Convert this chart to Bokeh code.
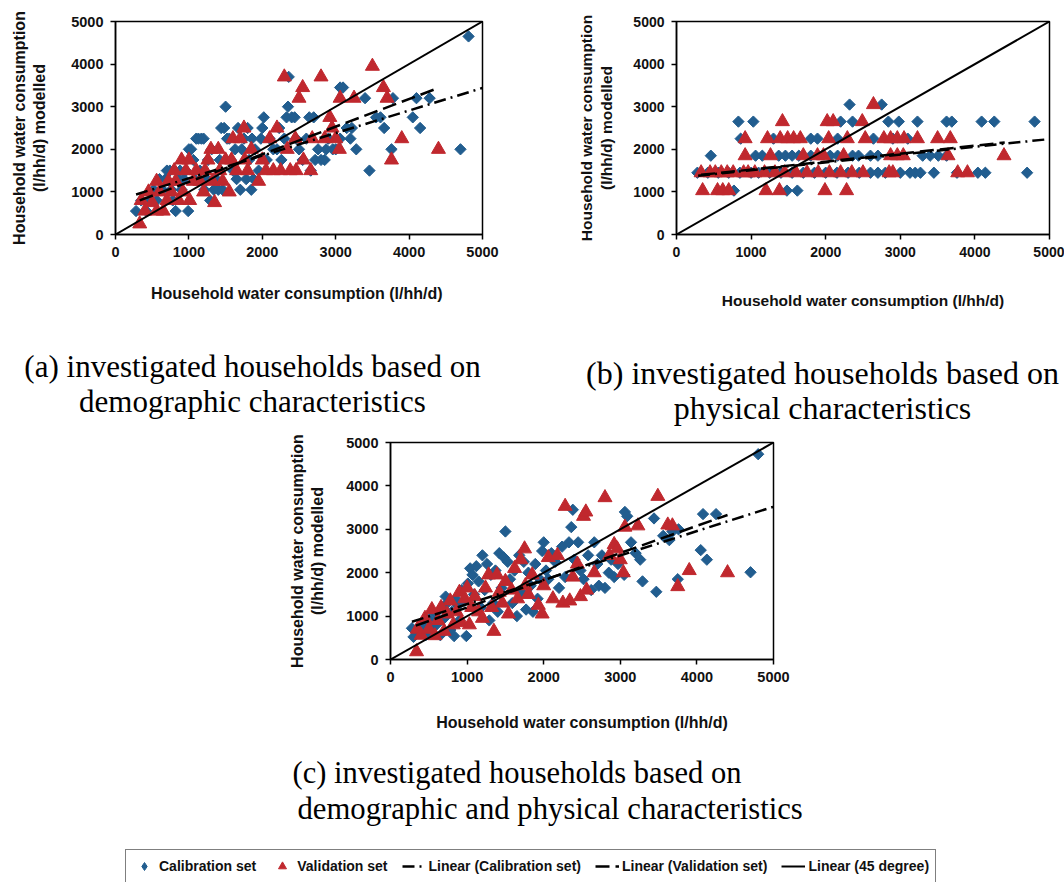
from bokeh.plotting import figure
from bokeh.models import Label, Legend, LegendItem, FixedTicker, Range1d
from bokeh.layouts import row, column
from bokeh.embed import file_html
from bokeh.resources import INLINE
import numpy as np

# ---------------- data ----------------
TICKS = [0, 1000, 2000, 3000, 4000, 5000]
X_LABEL_A = "Household water consumption  (l/hh/d)"
X_LABEL = "Household water consumption (l/hh/d)"
Y_LABEL = "Household water consumption\n(l/hh/d) modelled"
LEGEND_LABELS = ["Calibration set", "Validation set", "Linear (Calibration set)",
                 "Linear (Validation set)", "Linear (45 degree)"]
CAPTIONS = {
    "a": ["(a) investigated households based on", "demographic characteristics"],
    "b": ["(b) investigated households based on", "physical characteristics"],
    "c": ["(c) investigated households based on", " demographic and physical characteristics"],
}

# panel (a): demographic characteristics
A_CAL = [(280,550),(350,800),(420,550),(480,800),(520,1050),(560,800),(600,1300),(640,1050),
         (680,1300),(700,1500),(740,1500),(760,1050),(780,800),(820,550),(850,1300),(880,1500),
         (900,1050),(930,1300),(960,1500),(990,550),(1000,2000),(1030,2000),(1060,1750),(1080,1300),
         (1100,2250),(1130,2250),(1150,1500),(1170,2250),(1200,2250),(1210,1050),(1240,1300),(1260,1750),
         (1290,800),(1310,2000),(1340,1050),(1370,1300),(1400,1050),(1420,1750),(1440,2500),(1460,1050),
         (1480,2500),(1500,3000),(1520,2250),(1550,2250),(1570,1750),(1600,1500),(1630,2000),(1650,1300),
         (1670,2500),(1700,1050),(1720,2000),(1750,2250),(1780,1300),(1800,2500),(1820,1750),(1850,1050),
         (1860,2250),(1880,1300),(1900,2000),(1950,1500),(1980,2250),(2000,2500),(2020,2750),(2060,1750),
         (2100,2250),(2150,2000),(2200,2000),(2230,2500),(2260,1750),(2300,2250),(2330,2750),(2350,3000),
         (2360,3700),(2400,2750),(2440,2750),(2460,2250),(2500,2000),(2550,1750),(2600,2250),(2640,2750),
         (2660,1500),(2700,2750),(2720,1750),(2760,2000),(2800,1750),(2850,1750),(2870,2000),(2900,2250),
         (2960,2000),(3000,2000),(3060,3450),(3100,3450),(3060,2250),(3150,2500),(3200,2250),(3220,2500),
         (3280,2000),(3400,3200),(3460,1500),(3550,2750),(3610,2750),(3660,2500),(3760,2000),(3780,3200),
         (4050,2750),(4100,3200),(4150,2500),(4280,3200),(4700,2000),(4810,4650)]
A_VAL = [(330,250),(350,800),(400,550),(450,1000),(500,750),(560,1250),(560,550),(600,1000),
         (650,550),(700,800),(720,1250),(760,1000),(800,1500),(820,1250),(860,800),(900,1750),
         (920,1000),(960,1500),(1000,1750),(1010,800),(1060,1250),(1100,1500),(1150,1250),(1200,1000),
         (1220,1500),(1260,1750),(1300,2000),(1320,1250),(1350,750),(1400,2000),(1420,1500),(1460,1250),
         (1500,1750),(1550,1000),(1580,1750),(1600,2250),(1650,1500),(1700,2250),(1750,2500),(1760,1750),
         (1800,1500),(1850,2000),(1950,1250),(2000,1750),(2050,1500),(2100,2250),(2150,1500),(2200,2500),
         (2250,1500),(2300,3700),(2340,2000),(2380,1500),(2450,2250),(2460,1500),(2500,3200),(2550,3450),
         (2560,1750),(2660,1500),(2680,2250),(2800,3700),(2850,2250),(2920,2750),(2950,2500),(3000,2250),
         (3050,2000),(3060,3200),(3250,3200),(3500,3950),(3650,3450),(3700,3200),(3760,1750),(3900,2250),
         (4400,2000)]
A_CAL_LINE = [(280, 940), (5000, 3440)]
A_VAL_LINE = [(330, 800), (4400, 3440)]

# panel (b): physical characteristics
B_CAL = [(280,1450),(420,1450),(560,1450),(700,1450),(850,1450),(1000,1450),(1100,1450),(1250,1450),
         (1400,1450),(1550,1450),(1700,1450),(1850,1450),(2000,1450),(2150,1450),(2300,1450),(2450,1450),
         (2600,1450),(2700,1450),(2800,1450),(3000,1450),(3130,1450),(3200,1450),(3270,1450),(3450,1450),
         (3760,1450),(4040,1450),(4140,1450),(4700,1450),
         (460,1850),(1060,1850),(1150,1850),(1370,1850),(1460,1850),(1550,1850),(1640,1850),(1800,1850),
         (2060,1850),(2160,1850),(2360,1850),(2440,1850),(2600,1850),(2700,1850),(3300,1850),(3400,1850),
         (3510,1850),(3620,1850),
         (860,2250),(1300,2250),(1800,2250),(1890,2250),(2160,2250),(2640,2250),(2900,2250),(3100,2250),
         (830,2650),(1030,2650),(2200,2650),(2360,2650),(2840,2650),(2980,2650),(3230,2650),(3620,2650),
         (3690,2650),(4090,2650),(4260,2650),(4800,2650),
         (2320,3050),(2750,3050),
         (770,1030),(1480,1030),(1620,1030)]
B_VAL = [(350,1030),(550,1030),(620,1030),(700,1030),(1200,1030),(1380,1030),(1990,1030),(2280,1030),
         (330,1450),(450,1450),(520,1450),(600,1450),(680,1450),(760,1450),(900,1450),(960,1450),
         (1050,1450),(1180,1450),(1320,1450),(1450,1450),(1600,1450),(1750,1450),(1900,1450),(2050,1450),
         (2200,1450),(2350,1450),(2500,1450),(2850,1450),(2900,1450),(3770,1450),(3900,1450),
         (920,1850),(1260,1850),(1700,1850),(1890,1850),(1970,1850),(2240,1850),(2870,1850),(2960,1850),
         (3040,1850),(3640,1850),(4390,1850),
         (920,2250),(1220,2250),(1390,2250),(1490,2250),(1570,2250),(1660,2250),(2040,2250),(2290,2250),
         (2530,2250),(2780,2250),(2870,2250),(2960,2250),(3050,2250),(3230,2250),(3500,2250),(3670,2250),
         (1420,2650),(2020,2650),(2100,2650),(2490,2650),
         (2640,3050)]
B_CAL_LINE = [(290, 1380), (5000, 2240)]
B_VAL_LINE = [(330, 1400), (4400, 2160)]

# panel (c): demographic and physical characteristics
C_CAL = [(280,720),(300,520),(380,620),(420,780),(460,560),(500,920),(540,700),(580,1050),
         (610,820),(650,560),(680,1200),(700,950),(720,1450),(750,1320),(780,680),(800,1100),
         (830,540),(850,1400),(880,1250),(900,900),(930,1600),(960,1350),(990,540),(1010,1750),
         (1040,2100),(1070,1950),(1090,1500),(1120,2150),(1150,1800),(1180,1200),(1200,2400),(1230,1600),
         (1260,2200),(1290,900),(1310,1950),(1340,1300),(1370,2050),(1400,1100),(1420,2450),(1450,1650),
         (1480,2350),(1500,2950),(1530,2250),(1560,1850),(1590,1300),(1620,2050),(1650,1000),(1680,2400),
         (1710,1550),(1740,2250),(1770,1150),(1800,2000),(1830,1700),(1860,1100),(1890,2200),(1920,1400),
         (1950,1850),(1980,2500),(2000,2700),(2030,2050),(2060,1850),(2100,2450),(2150,2250),(2200,1650),
         (2240,2600),(2280,1900),(2330,2700),(2360,3050),(2380,3450),(2400,2300),(2450,2700),(2480,2050),
         (2520,1850),(2580,2400),(2620,1600),(2660,2700),(2700,2200),(2720,1700),(2760,2400),(2800,1650),
         (2850,2000),(2880,2300),(2920,1900),(2970,2200),(3050,1950),(3060,3400),(3090,3300),(3140,2700),
         (3200,2450),(3260,2300),(3290,1800),(3440,3250),(3470,1560),(3560,2850),(3640,2750),(3680,2950),
         (3750,1850),(3760,3000),(4050,2520),(4080,3350),(4130,2300),(4250,3350),(4700,2010),(4800,4730)]
C_VAL = [(340,180),(350,700),(400,560),(450,950),(500,700),(540,1150),(580,550),(620,900),
         (660,1200),(700,650),(740,1050),(780,1350),(820,800),(860,1100),(900,1550),(930,850),
         (970,1400),(1000,1650),(1030,800),(1060,1200),(1100,1450),(1150,1100),(1200,950),(1240,1650),
         (1280,1950),(1320,1200),(1350,650),(1390,1950),(1420,1550),(1460,1300),(1500,1800),(1540,1050),
         (1580,1600),(1620,2100),(1660,1400),(1700,2300),(1750,2550),(1760,1700),(1800,1500),(1850,1950),
         (1930,1250),(1980,1050),(2000,1700),(2060,2350),(2120,1400),(2180,2400),(2250,1300),(2280,3530),
         (2340,1350),(2380,1900),(2440,2200),(2480,1450),(2520,3300),(2550,3400),(2560,1600),(2660,2000),
         (2800,3730),(2860,2400),(2920,2650),(2960,2550),(3000,2300),(3040,2000),(3060,3050),(3230,3080),
         (3490,3760),(3620,3100),(3680,3080),(3750,1680),(3900,2050),(4400,2000)]
C_CAL_LINE = [(280, 870), (5000, 3520)]
C_VAL_LINE = [(330, 780), (4400, 3330)]

DIAG_LINE = [(0, 0), (5000, 5000)]

# off-canvas sample glyphs used only to draw the legend keys
LEGEND_POINT = [(-500, -500)]
LEGEND_SEGMENT = [(-500, -500), (-490, -500)]

# ---------------- style ----------------
BLUE = "#215D8F"
RED = "#C0282E"
SANS = "Liberation Sans"
SERIF = "Liberation Serif"
DASHDOT = "12 5 2 5"
DASH = "14 6"
SQ_SIZE = 8
TRI_SIZE = 14


def xy(pairs):
    xs, ys = zip(*pairs)
    return list(xs), list(ys)


def add_series(p, cal, val, cal_line, val_line, diag, legend_keys=False):
    cx, cy = xy(cal)
    vx, vy = xy(val)
    if legend_keys:
        r_cal = p.scatter(cx, cy, marker="diamond", size=SQ_SIZE, fill_color=BLUE, line_color=BLUE)
    else:
        r_cal = p.scatter(cx, cy, marker="square", angle=np.pi / 4, size=SQ_SIZE,
                          fill_color=BLUE, line_color=BLUE)
    r_val = p.scatter(vx, vy, marker="triangle", size=TRI_SIZE, fill_color=RED, line_color=RED)
    lx, ly = xy(cal_line)
    r_lc = p.line(lx, ly, line_color="black", line_width=2.5, line_dash=DASHDOT)
    lx, ly = xy(val_line)
    r_lv = p.line(lx, ly, line_color="black", line_width=2.5, line_dash=DASH)
    lx, ly = xy(diag)
    r_d = p.line(lx, ly, line_color="black", line_width=2)
    return [r_cal, r_val, r_lc, r_lv, r_d]


def panel(width, height, mbl, mbr, mbt, mbb, cal, val, cal_line, val_line,
          tick_fs, label_fs, xstand, ystand, xlabel):
    p = figure(width=width, height=height, x_range=Range1d(0, 5000), y_range=Range1d(0, 5000),
               output_backend="svg", toolbar_location=None,
               min_border_left=mbl, min_border_right=mbr, min_border_top=mbt, min_border_bottom=mbb)
    p.xgrid.visible = False
    p.ygrid.visible = False
    p.outline_line_color = "black"
    p.outline_line_width = 1.5
    for ax in (p.xaxis[0], p.yaxis[0]):
        ax.ticker = FixedTicker(ticks=TICKS)
        ax.major_label_text_font = SANS
        ax.major_label_text_font_style = "bold"
        ax.major_label_text_font_size = tick_fs
        ax.major_label_text_color = "#111111"
        ax.axis_label_text_font = SANS
        ax.axis_label_text_font_style = "bold"
        ax.axis_label_text_font_size = label_fs
        ax.axis_label_text_color = "#111111"
        ax.axis_line_color = "black"
        ax.axis_line_width = 1.5
        ax.major_tick_line_color = "black"
        ax.major_tick_line_width = 1.5
        ax.major_tick_in = 0
        ax.major_tick_out = 5
        ax.minor_tick_line_color = None
        ax.major_label_standoff = 7
    p.xaxis[0].axis_label = xlabel
    p.yaxis[0].axis_label = Y_LABEL
    p.xaxis[0].axis_label_standoff = xstand
    p.yaxis[0].axis_label_standoff = ystand
    rs = add_series(p, cal, val, cal_line, val_line, DIAG_LINE)
    return p, rs


def blank(width, height):
    p = figure(width=width, height=height, x_range=Range1d(0, width), y_range=Range1d(0, height),
               x_axis_type=None, y_axis_type=None, output_backend="svg", toolbar_location=None,
               min_border=0, min_border_left=0, min_border_right=0,
               min_border_top=0, min_border_bottom=0)
    p.xgrid.visible = False
    p.ygrid.visible = False
    p.outline_line_color = None
    return p


def caption(p, x, y, text, align, size="31px"):
    p.add_layout(Label(x=x, y=y, x_units="screen", y_units="screen", text=text,
                       text_align=align, text_baseline="alphabetic",
                       text_font=SERIF, text_font_size=size, text_color="black"))


# panel a: frame x 115..482, y 21..234
pa, _ = panel(560, 312, 115, 78, 21, 78, A_CAL, A_VAL, A_CAL_LINE, A_VAL_LINE,
              "14.5px", "16px", 25, 20, X_LABEL_A)
# panel b: frame x 676..1049, y 21..237
pb, _ = panel(504, 312, 116, 15, 21, 75, B_CAL, B_VAL, B_CAL_LINE, B_VAL_LINE,
              "14px", "15.5px", 32, 15, X_LABEL)

# captions of a and b: band y 312..428
cap_ab = blank(1064, 116)
caption(cap_ab, 252, 62, CAPTIONS["a"][0], "center")
caption(cap_ab, 252, 27, CAPTIONS["a"][1], "center")
caption(cap_ab, 822, 56, CAPTIONS["b"][0], "center", "32px")
caption(cap_ab, 822, 21, CAPTIONS["b"][1], "center", "32px")

# panel c: frame x 390..773, y 442..663 ; figure y 428..733
pc, _ = panel(1064, 305, 390, 291, 14, 70, C_CAL, C_VAL, C_CAL_LINE, C_VAL_LINE,
              "14.5px", "16px", 29, 17, X_LABEL)

# caption of c and legend: band y 733..882
cap_c = blank(1064, 149)
caption(cap_c, 292, 110, CAPTIONS["c"][0], "left", "30.5px")
caption(cap_c, 297, 74, CAPTIONS["c"][1], "left", "30.7px")
leg_rs = add_series(cap_c, LEGEND_POINT, LEGEND_POINT, LEGEND_SEGMENT, LEGEND_SEGMENT,
                    LEGEND_SEGMENT, legend_keys=True)
legend = Legend(items=[LegendItem(label=lab, renderers=[r]) for lab, r in zip(LEGEND_LABELS, leg_rs)],
                orientation="horizontal", location=(125, -1),
                border_line_color="black", border_line_width=1.5,
                background_fill_color="white", background_fill_alpha=1.0,
                label_text_font=SANS, label_text_font_style="bold", label_text_font_size="14px",
                label_text_color="#111111",
                glyph_width=24, glyph_height=20, label_standoff=3, spacing=14,
                padding=6, margin=0)
cap_c.add_layout(legend)

layout = column(row(pa, pb), row(cap_ab), row(pc), row(cap_c))
open("out.html", "w").write(file_html(layout, INLINE))
